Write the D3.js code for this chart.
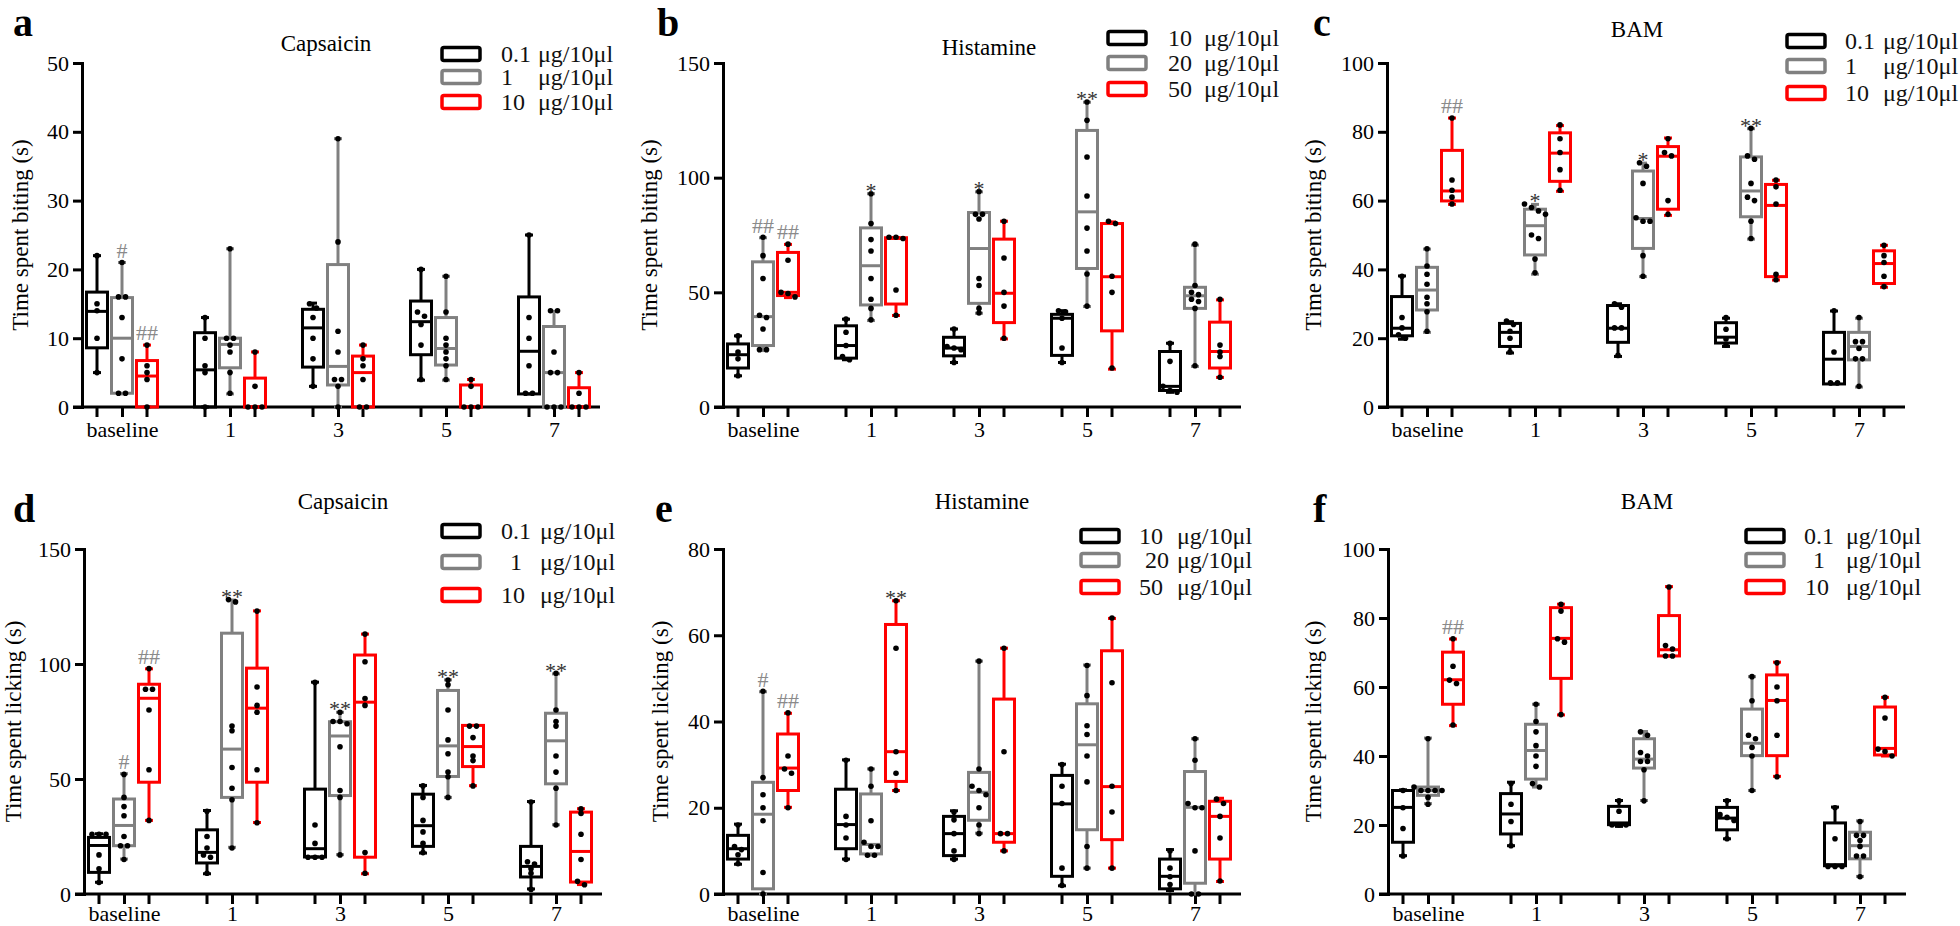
<!DOCTYPE html>
<html><head><meta charset="utf-8">
<script src="https://cdn.jsdelivr.net/npm/d3@7"></script>
<style>
body{margin:0;background:#fff}
svg{display:block}
</style>
</head><body>
<svg id="chart" width="1960" height="926"></svg>
<script>
// ---------- DATA ----------
const groups = ["baseline","1","3","5","7"];
const legendCaps = ["0.1","1","10"];
const legendHist = ["10","20","50"];
const unitLabel = "μg/10μl";
const yLabelBite = "Time spent biting (s)";
const yLabelLick = "Time spent licking (s)";
const titles = ["Capsaicin","Histamine","BAM","Capsaicin","Histamine","BAM"];
const panelLetters = ["a","b","c","d","e","f"];
const ticksA = [0,10,20,30,40,50];
const ticksB = [0,50,100,150];
const ticksC = [0,20,40,60,80,100];
const ticksD = [0,50,100,150];
const ticksE = [0,20,40,60,80];
const ticksF = [0,20,40,60,80,100];

// box stats: [min, q1, median, q3, max]
const aLowBox  = [[5,8.6,13.9,16.7,22],[0,0,5.4,10.8,13],[3,5.8,11.5,14.2,15.1],[3.9,7.6,12.4,15.4,20],[1.9,1.9,8.1,16,25]];
const aLowPts  = [[22,15,14,10,5],[13,10,6,5,0],[15,14.4,13,10,7,3],[20,13.8,13.2,12,9,4],[25,13,10,6,2,2]];
const aMidBox  = [[1.9,2,10,15.9,21],[1.9,5.7,9.1,10,23],[0,3.2,5.9,20.7,39],[3.9,6.1,8.5,13,19],[0,0,5,11.7,13.9]];
const aMidPts  = [[21,16,16,13,7,2,2],[23,10,10,9,8,5,2],[39,24,11,8,4,4,3,0],[19,13.8,10,9,8,7,6,4],[14,14,8,5,5,0,0,0]];
const aHighBox = [[0,0,4.5,6.75,9],[0,0,0,4.2,8],[0,0,5,7.4,9],[0,0,0,3.2,4],[0,0,0,2.8,5]];
const aHighPts = [[9,6,5,4,0],[8,3,0,0,0],[9,7,6,4,0,0],[4,3,0,0,0],[5,2,0,0,0]];
const aMarks   = [[0,1,"#"],[0,2,"##"]];

const bLowBox  = [[13.6,17,22.8,27.5,31],[20.6,21.3,26.8,35.4,38.3],[19.4,22.3,25.7,30.4,34],[19.4,22.5,38.7,40.4,42],[6.4,7.2,9,24.2,27.8]];
const bLowPts  = [[31,24,21,13.6],[38.3,32.6,26.8,22,20.6],[34,26.4,25.7,25,19.4],[42,41.5,38.7,25.7,19.4],[27.8,19.9,9,7.2,6.4]];
const bMidBox  = [[24.6,26.8,39.4,63.3,73.8],[37.7,44.5,61.6,78.1,93],[40.9,45.2,69.1,84.8,93.8],[43.8,60.4,85.1,120.6,132.9],[17.7,43,48.5,52.2,70.6]];
const bMidPts  = [[74,66,56,40,39,34,25,25],[93,80,73,68,56,47,43,38],[94,84,84,82,56,53,43,41],[133,125,109,92,78,68,58,44],[71,53,50,49,47,46,43,18]];
const bHighBox = [[47.7,48.6,50,67.4,70.9],[39.9,44.9,73.5,73.8,73.8],[29.7,36.8,49.6,73.2,81],[16.5,33.2,56.8,80,80.7],[12.9,17,24.2,37,46.7]];
const bHighPts = [[71,64,50,49.5,48],[74,74,73.5,51,40],[81,65,50,44,30],[81,80,57,50,17],[47,27,24,22,13]];
const bMarks   = [[0,1,"##"],[0,2,"##"],[1,1,"*"],[2,1,"*"],[3,1,"**"]];

const cLowBox  = [[19.7,20.7,22.9,32.1,38.1],[15.7,17.6,21.7,24.3,24.8],[14.7,18.8,22.9,29.5,30],[17.6,18.6,20.3,24.5,25.8],[6.7,6.7,13.9,21.7,27.9]];
const cLowPts  = [[38,26,23,21,20],[25,24,22,20,16],[30,29,23,23,15],[26,22.6,19.8,18],[28,16,7,7]];
const cMidBox  = [[21.7,28.2,34,40.6,45.9],[38.6,44.2,52.7,57.5,58.9],[37.9,46.1,54.8,68.6,70.9],[48.8,55.3,62.8,72.7,80.9],[5.8,13.7,17.6,21.7,25.8]];
const cMidPts  = [[46,41,38.6,35.7,31.9,30,27.7,22],[59,58,57,56,50,49,43,39],[71,70,65,55,54,54,44,38],[81,73,72,65,61,60,54,49],[26,19,19,17,14,14,6]];
const cHighBox = [[58.9,59.9,62.8,74.6,84],[62.7,65.6,73.8,79.7,81.8],[55.7,57.5,72.9,75.7,78.2],[36.9,37.9,58.6,64.7,65.9],[34.8,35.9,41.7,45.4,47]];
const cHighPts = [[84,66,63,61,59],[82,78,74,69,63],[78,74,73,60,56],[66,64,59,38.6,37],[47,44,42,38,35]];
const cMarks   = [[0,2,"##"],[1,1,"*"],[2,1,"*"],[3,1,"**"]];

const dLowBox  = [[5.1,9.4,21.1,24.6,26.2],[8.8,13.5,18.1,27.9,36.3],[16.1,16.1,19.7,45.6,92.1],[17.8,20.7,29.7,43.4,47.2],[2.2,7.4,12,20.7,40.2]];
const dLowPts  = [[26,26,26,17,11,5],[36,25,20,17,16,9],[92,30,22,16,16,16],[47,42,32,27,22,18],[40,14,13,11,9,2]];
const dMidBox  = [[15.2,21,29.8,41.3,52.3],[20.3,42,63,113.4,127.8],[17.1,42.8,68.7,74.9,79],[42,51.1,64.4,88.5,93.1],[30.1,47.9,66.6,78.6,95.7]];
const dMidPts  = [[52,42,38,34,25,21,21,15],[128,127,73,71,55,46,41,20],[79,75,75,74,64,45,42,17],[93,91,80,67,61,53,51,42],[96,80,75,73,60,53,46,30]];
const dHighBox = [[32,48.6,85.1,91.2,97.9],[31.1,48.6,80.8,98.2,123.1],[8.8,16,83.4,103.9,113],[47.1,55.4,64.1,73.3,73.3],[4.1,5.2,18.5,35.6,37.1]];
const dHighPts = [[98,89,89,80,54,32],[123,90,82,79,54,31],[113,101,85,82,18,9],[73,73,68,60,58,47],[37,35,26,15,5.5,4]];
const dMarks   = [[0,1,"#"],[0,2,"##"],[1,1,"**"],[2,1,"**"],[3,1,"**"],[4,1,"**"]];

const eLowBox  = [[6.9,8.1,10.5,13.6,16.2],[8.1,10.5,16.1,24.3,31.1],[8.1,8.9,14,18,19.3],[1.9,4.1,20.9,27.5,30.1],[0.8,1.2,4.1,8.1,10.3]];
const eLowPts  = [[16,11,10.3,9.1,7],[31,18,16,13,8],[19,17.2,14,10,8],[30,25,21,6,2],[10,6,4,2.2,1]];
const eMidBox  = [[0,1.2,18.5,25.9,46.9],[9,9.3,11.5,23.2,29],[14.1,17.1,23.6,28.2,54],[6,14.9,34.6,44.1,53.1],[0,2.5,20.1,28.4,36]];
const eMidPts  = [[47,27,23,20,17,5,0],[29,25,17,12,11,11,9,9],[54,29,25,24,23,20,16,14],[53,46,39,37,32,26,11,6],[36,31,21,20,20,10,0,0]];
const eHighBox = [[20.1,24,29.2,37.1,41.9],[24,26.1,33,62.5,68],[10,12,14,45.2,57],[6,12.6,24.9,56.4,63.9],[2.9,8.1,18,21.5,22.2]];
const eHighPts = [[42,32,29,28,20],[68,57,33,28,24],[57,33,14,14,10],[64,49,25,19,6],[22,21,18,13,3]];
const eMarks   = [[0,1,"#"],[0,2,"##"],[1,2,"**"]];

const fLowBox  = [[11.1,15,25.1,30,30.2],[14,17.4,23.2,29.1,32.4],[19.6,20.1,20.6,25.4,27.1],[16,18.6,22,25.1,27.1],[8.2,8.2,8.5,20.6,25.2]];
const fLowPts  = [[30,25,19,11],[32,26,21,14],[27,24,20,20,20],[27,23,22.2,21.3,16],[25,16,8,8,8]];
const fMidBox  = [[26.2,28.6,30,31,45.2],[31,33.3,41.6,49.2,55],[27.1,36.5,39.1,45,47.1],[30,40.1,43.7,53.6,63],[5.1,10.2,14,17.9,21.2]];
const fMidPts  = [[45,31,30,30,30,30,28,26],[55,50,47,43,40,37,32,31],[47,46,41,40,38.4,38.4,36,27],[63,56,46,45,42.5,40,30],[21,17,17,15.5,13.8,11,11,5]];
const fHighBox = [[48.8,55,62.1,70.1,73.9],[51.9,62.5,74.1,83,84],[69,69,70.8,80.7,89.1],[34.1,40.1,56.1,63.5,67.2],[40,40.3,42.2,54.2,57]];
const fHighPts = [[74,66,62,61,49],[84,82,74,73,52],[89,72,71,69,69],[67,60,56,46,34],[57,51,42,41.3,40]];
const fMarks   = [[0,2,"##"]];

// ---------- LAYOUT / STYLE ----------
const colors = ["#000000","#808080","#ff0000"];
const FONT = '"Liberation Serif"';
const svg = d3.select("#chart");

const panels = [
  {L:82,  top:63,  bot:407, max:50,  ticks:ticksA, yl:yLabelBite, ylx:28,   title:titles[0], tx:326,  ty:51,  letter:panelLetters[0], lx:13,  ly:36,
   boxes:[aLowBox,aMidBox,aHighBox], pts:[aLowPts,aMidPts,aHighPts], marks:aMarks,
   leg:{labels:legendCaps, bx:442, rows:[54,77,102], nx:[501,501,501], ux:538}},
  {L:723, top:63,  bot:407, max:150, ticks:ticksB, yl:yLabelBite, ylx:657,  title:titles[1], tx:989,  ty:55,  letter:panelLetters[1], lx:657, ly:36,
   boxes:[bLowBox,bMidBox,bHighBox], pts:[bLowPts,bMidPts,bHighPts], marks:bMarks,
   leg:{labels:legendHist, bx:1108, rows:[38,63,89], nx:[1168,1168,1168], ux:1204}},
  {L:1387,top:63,  bot:407, max:100, ticks:ticksC, yl:yLabelBite, ylx:1321, title:titles[2], tx:1637, ty:37,  letter:panelLetters[2], lx:1313, ly:36,
   boxes:[cLowBox,cMidBox,cHighBox], pts:[cLowPts,cMidPts,cHighPts], marks:cMarks,
   leg:{labels:legendCaps, bx:1787, rows:[41,66,93], nx:[1845,1845,1845], ux:1883}},
  {L:84,  top:549, bot:894, max:150, ticks:ticksD, yl:yLabelLick, ylx:21,   title:titles[3], tx:343,  ty:509, letter:panelLetters[3], lx:13,  ly:522,
   boxes:[dLowBox,dMidBox,dHighBox], pts:[dLowPts,dMidPts,dHighPts], marks:dMarks,
   leg:{labels:legendCaps, bx:442, rows:[531,562,595], nx:[501,510,501], ux:540}},
  {L:723, top:549, bot:894, max:80,  ticks:ticksE, yl:yLabelLick, ylx:668,  title:titles[4], tx:982,  ty:509, letter:panelLetters[4], lx:655, ly:522,
   boxes:[eLowBox,eMidBox,eHighBox], pts:[eLowPts,eMidPts,eHighPts], marks:eMarks,
   leg:{labels:legendHist, bx:1081, rows:[536,560,587], nx:[1139,1145,1139], ux:1177}},
  {L:1388,top:549, bot:894, max:100, ticks:ticksF, yl:yLabelLick, ylx:1321, title:titles[5], tx:1647, ty:509, letter:panelLetters[5], lx:1313, ly:522,
   boxes:[fLowBox,fMidBox,fHighBox], pts:[fLowPts,fMidPts,fHighPts], marks:fMarks,
   leg:{labels:legendCaps, bx:1746, rows:[536,560,587], nx:[1804,1813,1805], ux:1846}}
];

const BW = 21, OFF = 25, LW = 3;

function jitter(vals, y) {
  const sorted = vals.map(v => ({v, py: y(v)})).sort((a,b)=>a.py-b.py);
  const clusters = [];
  sorted.forEach(p => {
    const last = clusters[clusters.length-1];
    if (last && Math.abs(p.py - last[last.length-1].py) < 4.5) last.push(p);
    else clusters.push([p]);
  });
  const out = [];
  clusters.forEach(c => c.forEach((p,k) => out.push({v:p.v, dx:(k-(c.length-1)/2)*7})));
  return out;
}

function drawPanel(p) {
  const g = svg.append("g");
  const y = d3.scaleLinear().domain([0,p.max]).range([p.bot,p.top]);
  const x = d3.scalePoint().domain(groups).range([p.L+40, p.L+472]);

  // y axis
  const ya = g.append("g").attr("transform",`translate(${p.L},0)`)
    .call(d3.axisLeft(y).tickValues(p.ticks).tickSize(9).tickSizeOuter(0).tickPadding(4));
  ya.select(".domain").attr("stroke","#000").attr("stroke-width",LW).attr("stroke-linecap","square");
  ya.selectAll(".tick line").attr("stroke","#000").attr("stroke-width",LW);
  ya.selectAll(".tick text").attr("fill","#000").attr("font-size",22);

  // x axis (labels + centre ticks)
  const xa = g.append("g").attr("transform",`translate(0,${p.bot})`)
    .call(d3.axisBottom(x).tickSize(10).tickSizeOuter(0).tickPadding(p.bot > 500 ? 1 : 4));
  xa.select(".domain").remove();
  xa.selectAll(".tick line").attr("stroke","#000").attr("stroke-width",LW);
  xa.selectAll(".tick text").attr("fill","#000").attr("font-size",22);
  // side ticks for each box
  const sideTicks = [];
  groups.forEach(gr => [-OFF, OFF].forEach(o => sideTicks.push(x(gr)+o)));
  g.selectAll(".sidetick").data(sideTicks).join("line")
    .attr("x1",d=>d).attr("x2",d=>d).attr("y1",p.bot).attr("y2",p.bot+10)
    .attr("stroke","#000").attr("stroke-width",LW);
  g.append("line").attr("x1",p.L-9).attr("x2",p.L+518).attr("y1",p.bot).attr("y2",p.bot)
    .attr("stroke","#000").attr("stroke-width",LW);

  // boxes
  p.boxes.forEach((series, s) => {
    const col = colors[s];
    series.forEach((b, i) => {
      const cx = x(groups[i]) + (s-1)*OFF;
      const [mn,q1,md,q3,mx] = b;
      const bg = g.append("g");
      bg.append("line").attr("x1",cx).attr("x2",cx).attr("y1",y(q3)).attr("y2",y(mx))
        .attr("stroke",col).attr("stroke-width",LW);
      bg.append("line").attr("x1",cx).attr("x2",cx).attr("y1",y(q1)).attr("y2",y(mn))
        .attr("stroke",col).attr("stroke-width",LW);
      [mn,mx].forEach(v => bg.append("line").attr("x1",cx-4).attr("x2",cx+4).attr("y1",y(v)).attr("y2",y(v))
        .attr("stroke",col).attr("stroke-width",LW));
      bg.append("rect").attr("x",cx-BW/2).attr("width",BW).attr("y",y(q3)).attr("height",Math.max(0,y(q1)-y(q3)))
        .attr("fill","none").attr("stroke",col).attr("stroke-width",LW);
      bg.append("line").attr("x1",cx-BW/2).attr("x2",cx+BW/2).attr("y1",y(md)).attr("y2",y(md))
        .attr("stroke",col).attr("stroke-width",LW);
      const pts = jitter(p.pts[s][i], y);
      bg.selectAll("circle").data(pts).join("circle")
        .attr("cx",d=>cx+d.dx).attr("cy",d=>y(d.v)).attr("r",2.8).attr("fill","#000");
    });
  });

  // significance marks
  p.marks.forEach(([gi, s, txt]) => {
    const cx = x(groups[gi]) + (s-1)*OFF;
    const top = y(p.boxes[s][gi][4]);
    const isHash = txt[0] === "#";
    g.append("text").attr("x",cx).attr("y", isHash ? top-5 : top+4)
      .attr("text-anchor","middle").attr("font-size",22)
      .attr("fill", isHash ? "#8a8a8a" : "#333").text(txt);
  });

  // y label
  const ym = (p.top+p.bot)/2;
  g.append("text").attr("transform",`translate(${p.ylx},${ym}) rotate(-90)`)
    .attr("text-anchor","middle").attr("font-size",23).attr("fill","#000").text(p.yl);
  // title
  g.append("text").attr("x",p.tx).attr("y",p.ty).attr("text-anchor","middle")
    .attr("font-size",23).attr("fill","#000").text(p.title);
  // letter
  g.append("text").attr("x",p.lx).attr("y",p.ly).attr("font-size",40).attr("font-weight","bold")
    .attr("fill","#000").text(p.letter);

  // legend
  const lg = g.append("g");
  p.leg.labels.forEach((lab, k) => {
    const cy = p.leg.rows[k];
    lg.append("rect").attr("x",p.leg.bx).attr("y",cy-6.5).attr("width",38).attr("height",13).attr("rx",2)
      .attr("fill","none").attr("stroke",colors[k]).attr("stroke-width",3.5);
    lg.append("text").attr("x",p.leg.nx[k]).attr("y",cy+8).attr("font-size",24).attr("fill","#111").text(lab);
    lg.append("text").attr("x",p.leg.ux).attr("y",cy+8).attr("font-size",24).attr("fill","#111").text(unitLabel);
  });
}

panels.forEach(drawPanel);
svg.selectAll("text").style("font-family", FONT);
svg.selectAll("g").attr("font-family", null);
</script>
</body></html>
